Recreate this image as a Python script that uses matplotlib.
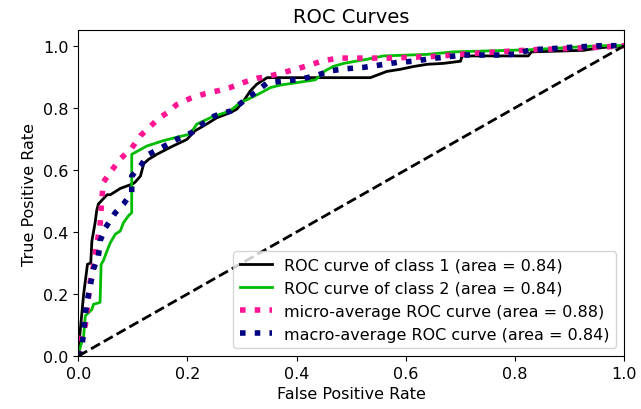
import matplotlib
matplotlib.use("Agg")
import matplotlib.pyplot as plt

# ROC curve points
fpr_class1 = [0, 0.002, 0.010, 0.017, 0.023, 0.025, 0.031, 0.034, 0.037, 0.053, 0.059, 0.077,
              0.10, 0.104, 0.114, 0.12, 0.129, 0.144, 0.168, 0.187, 0.199, 0.214, 0.23, 0.254,
              0.278, 0.29, 0.303, 0.315, 0.327, 0.346, 0.535, 0.565, 0.59, 0.614, 0.639, 0.669,
              0.70, 0.703, 0.824, 0.83, 0.925, 0.96, 1.0]
tpr_class1 = [0, 0.05, 0.20, 0.296, 0.30, 0.37, 0.43, 0.47, 0.49, 0.52, 0.52, 0.54,
              0.555, 0.56, 0.58, 0.62, 0.634, 0.65, 0.672, 0.688, 0.698, 0.726, 0.742, 0.768,
              0.784, 0.795, 0.822, 0.854, 0.876, 0.897, 0.897, 0.917, 0.924, 0.933, 0.94, 0.943,
              0.95, 0.967, 0.967, 0.98, 0.985, 0.994, 1.0]

fpr_class2 = [0, 0.004, 0.010, 0.013, 0.025, 0.028, 0.04, 0.042, 0.046, 0.053, 0.059, 0.068,
              0.077, 0.083, 0.092, 0.098, 0.098, 0.126, 0.156, 0.18, 0.205, 0.217, 0.242,
              0.278, 0.297, 0.309, 0.33, 0.352, 0.37, 0.434, 0.443, 0.452, 0.467, 0.486, 0.528,
              0.559, 0.639, 0.687, 0.828, 0.858, 0.956, 1.0]
tpr_class2 = [0, 0.03, 0.065, 0.13, 0.15, 0.167, 0.173, 0.296, 0.307, 0.34, 0.366, 0.393,
              0.403, 0.43, 0.452, 0.462, 0.65, 0.677, 0.694, 0.705, 0.715, 0.747, 0.768,
              0.79, 0.817, 0.826, 0.844, 0.865, 0.873, 0.89, 0.903, 0.919, 0.933, 0.943, 0.956,
              0.967, 0.972, 0.98, 0.987, 0.99, 1.0, 1.0]

fpr_micro = [0, 0.004, 0.013, 0.019, 0.022, 0.028, 0.034, 0.04, 0.043, 0.046, 0.062, 0.077,
             0.098, 0.114, 0.132, 0.147, 0.168, 0.18, 0.205, 0.23, 0.254, 0.278, 0.30, 0.327,
             0.346, 0.40, 0.446, 0.474, 0.568, 0.66, 0.712, 0.834, 0.956, 1.0]
tpr_micro = [0, 0.05, 0.10, 0.19, 0.24, 0.29, 0.36, 0.42, 0.50, 0.56, 0.60, 0.635,
             0.67, 0.71, 0.74, 0.765, 0.79, 0.81, 0.83, 0.844, 0.854, 0.865, 0.88, 0.895,
             0.90, 0.925, 0.95, 0.96, 0.96, 0.966, 0.974, 0.987, 0.995, 1.0]

fpr_macro = [0, 0.004, 0.007, 0.01, 0.013, 0.016, 0.022, 0.028, 0.037, 0.04, 0.05, 0.068,
             0.083, 0.098, 0.098, 0.114, 0.129, 0.153, 0.18, 0.208, 0.227, 0.25, 0.28, 0.303,
             0.324, 0.346, 0.376, 0.407, 0.434, 0.462, 0.492, 0.522, 0.553, 0.584, 0.614,
             0.645, 0.675, 0.706, 0.773, 0.80, 0.83, 0.864, 0.895, 0.956, 1.0]
tpr_macro = [0, 0.01, 0.033, 0.08, 0.135, 0.173, 0.226, 0.28, 0.323, 0.371, 0.414, 0.462,
             0.49, 0.527, 0.58, 0.613, 0.65, 0.672, 0.698, 0.72, 0.747, 0.774, 0.79, 0.822,
             0.849, 0.88, 0.886, 0.892, 0.903, 0.919, 0.926, 0.93, 0.938, 0.946, 0.95,
             0.958, 0.964, 0.97, 0.97, 0.973, 0.987, 0.99, 0.994, 1.0, 1.0]

labels = ["ROC curve of class 1 (area = 0.84)",
          "ROC curve of class 2 (area = 0.84)",
          "micro-average ROC curve (area = 0.88)",
          "macro-average ROC curve (area = 0.84)"]

fs = 11.5
fig, ax = plt.subplots(figsize=(6.41, 4.10), dpi=100)
fig.subplots_adjust(left=0.122, right=0.974, bottom=0.129, top=0.924)

cmap = plt.get_cmap("nipy_spectral")
ax.plot(fpr_class1, tpr_class1, lw=2, color=cmap(0.0), label=labels[0])
ax.plot(fpr_class2, tpr_class2, lw=2, color=cmap(0.5), label=labels[1])
ax.plot(fpr_micro, tpr_micro, label=labels[2], color="deeppink", linestyle=":", linewidth=4)
ax.plot(fpr_macro, tpr_macro, label=labels[3], color="navy", linestyle=":", linewidth=4)
ax.plot([0, 1], [0, 1], "k--", lw=2)

ax.set_xlim([0.0, 1.0])
ax.set_ylim([0.0, 1.05])
ax.set_xlabel("False Positive Rate", fontsize=fs)
ax.set_ylabel("True Positive Rate", fontsize=fs)
ax.set_title("ROC Curves", fontsize=14)
ax.tick_params(labelsize=fs)
ax.legend(loc="lower right", fontsize=fs)

fig.savefig("out.png", dpi=100)
